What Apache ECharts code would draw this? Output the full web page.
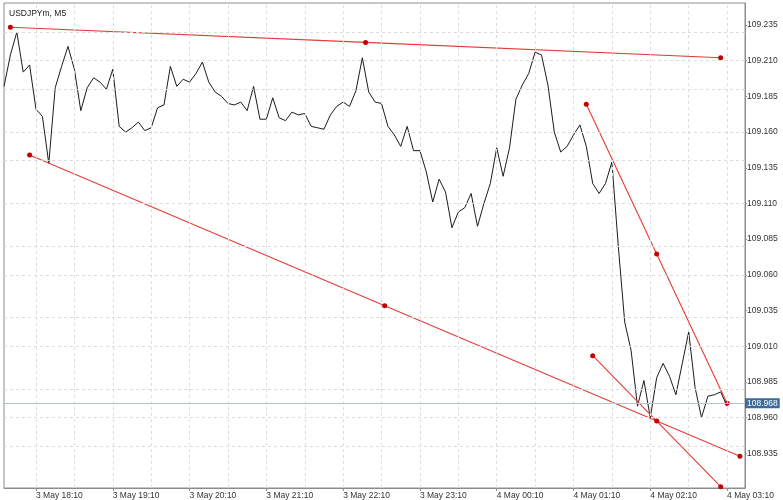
<!DOCTYPE html>
<html>
<head>
<meta charset="utf-8">
<script src="https://cdn.jsdelivr.net/npm/echarts@6/dist/echarts.min.js"></script>
<style>
html,body{margin:0;padding:0;background:#ffffff;}
#chart{width:783px;height:500px;}
</style>
</head>
<body>
<div id="chart"></div>
<script>
// x values are minutes relative to 3 May 18:10
const chartTitle = 'USDJPYm, M5';
const firstBarMinute = -25;
const barStepMinutes = 5;
const closePrices = [
  109.192, 109.214, 109.230, 109.202, 109.207, 109.176, 109.171, 109.138, 109.191, 109.206,
  109.220, 109.204, 109.175, 109.191, 109.198, 109.195, 109.190, 109.204, 109.164, 109.160,
  109.163, 109.167, 109.161, 109.163, 109.177, 109.179, 109.206, 109.192, 109.197, 109.195,
  109.201, 109.209, 109.195, 109.188, 109.185, 109.180, 109.179, 109.181, 109.175, 109.192,
  109.169, 109.169, 109.184, 109.170, 109.168, 109.174, 109.172, 109.173, 109.164, 109.163,
  109.162, 109.172, 109.178, 109.181, 109.178, 109.189, 109.212, 109.188, 109.181, 109.180,
  109.164, 109.158, 109.150, 109.164, 109.147, 109.147, 109.132, 109.111, 109.127, 109.118,
  109.093, 109.104, 109.107, 109.117, 109.094, 109.110, 109.124, 109.149, 109.129, 109.149,
  109.183, 109.193, 109.201, 109.216, 109.214, 109.193, 109.160, 109.146, 109.150, 109.158,
  109.165, 109.150, 109.124, 109.117, 109.124, 109.139, 109.080, 109.027, 109.007, 108.968,
  108.986, 108.960, 108.988, 108.998, 108.989, 108.976, 108.998, 109.020, 108.981, 108.960,
  108.975, 108.976, 108.978, 108.968
];
const lastPrice = 108.968;

const xTickMinutes = [0, 60, 120, 180, 240, 300, 360, 420, 480, 540];
const xTickLabels = ['3 May 18:10', '3 May 19:10', '3 May 20:10', '3 May 21:10', '3 May 22:10',
                     '3 May 23:10', '4 May 00:10', '4 May 01:10', '4 May 02:10', '4 May 03:10'];
const xGridMinutes = [0, 30, 60, 90, 120, 150, 180, 210, 240, 270, 300, 330, 360, 390, 420, 450, 480, 510, 540];
const yTickValues = [108.935, 108.960, 108.985, 109.010, 109.035, 109.060, 109.085, 109.110,
                     109.135, 109.160, 109.185, 109.210, 109.235];

// trend lines: [minute, price] for start, middle and end anchors
const trendUpper = [[-20, 109.2334], [257.5, 109.2228], [535, 109.2121]];
const trendLower = [[-5, 109.1440], [272.5, 109.0384], [550, 108.9330]];
const trendSteep = [[430, 109.1795], [485, 109.0746], [540, 108.9700]];
const trendShort = [[435, 109.0034], [485, 108.9576], [535, 108.9116]];

const priceData = closePrices.map((p, i) => [firstBarMinute + i * barStepMinutes, p]);
const labelMap = {};
xTickMinutes.forEach((m, i) => { labelMap[m] = xTickLabels[i]; });

const FONT = 'Liberation Sans, Arial, sans-serif';
const redLine = '#e63b36';
const redDot = '#c40000';

function trendSeries(data) {
  return {
    type: 'line', data: data, z: 4, silent: true,
    symbol: 'circle', symbolSize: 5, showSymbol: true,
    itemStyle: { color: redDot, borderWidth: 0 },
    lineStyle: { color: redLine, width: 1.1 },
    animation: false
  };
}

const chart = echarts.init(document.getElementById('chart'), null, { renderer: 'canvas' });
chart.setOption({
  animation: false,
  backgroundColor: '#ffffff',
  title: {
    text: chartTitle, left: 4, top: 4,
    textStyle: { fontSize: 8.5, fontWeight: 'normal', color: '#222', fontFamily: FONT }
  },
  grid: {
    left: 4, right: 38, top: 3, bottom: 12,
    show: true, borderColor: '#8c8c8c', borderWidth: 1, backgroundColor: '#ffffff'
  },
  xAxis: {
    type: 'value', min: -25, max: 554,
    axisLine: { show: true, onZero: false, lineStyle: { color: '#8c8c8c' } },
    axisTick: { show: true, length: 3, customValues: xTickMinutes, lineStyle: { color: '#8c8c8c' } },
    splitLine: { show: false },
    minorTick: { show: false },
    minorSplitLine: { show: false },
    axisLabel: {
      customValues: xTickMinutes,
      formatter: v => labelMap[Math.round(v)] || '',
      align: 'left', margin: 3, fontSize: 8.5, color: '#333', fontFamily: FONT
    }
  },
  yAxis: {
    type: 'value', position: 'right', min: 108.9107, max: 109.2504,
    axisLine: { show: true, onZero: false, lineStyle: { color: '#8c8c8c' } },
    axisTick: { show: true, length: 2, customValues: yTickValues, lineStyle: { color: '#8c8c8c' } },
    splitLine: { show: false },
    minorTick: { show: false },
    minorSplitLine: { show: false },
    axisLabel: {
      customValues: yTickValues,
      formatter: v => v.toFixed(3),
      margin: 2, fontSize: 8.5, color: '#333', fontFamily: FONT
    }
  },
  series: [
    {
      type: 'line', data: [], z: 1, silent: true,
      markLine: {
        silent: true, symbol: 'none', animation: false,
        label: { show: false },
        lineStyle: { color: '#dddddd', type: [3, 3], width: 1 },
        data: yTickValues.map(v => ({ yAxis: v })).concat(xGridMinutes.map(m => ({ xAxis: m })))
      }
    },
    {
      type: 'line', data: priceData, z: 3, silent: true,
      symbol: 'none', showSymbol: false,
      lineStyle: { color: '#1c1c1c', width: 1 },
      markLine: {
        silent: true, symbol: 'none', animation: false,
        lineStyle: { color: '#b3c4d6', type: 'solid', width: 1 },
        label: {
          show: true, position: 'end', distance: 0,
          formatter: () => lastPrice.toFixed(3),
          backgroundColor: '#3d6b99', color: '#ffffff',
          padding: [1, 2, 0, 2], fontSize: 8.5, fontFamily: FONT
        },
        data: [{ yAxis: lastPrice }]
      }
    },
    trendSeries(trendUpper),
    trendSeries(trendLower),
    trendSeries(trendSteep),
    trendSeries(trendShort)
  ]
});
</script>
</body>
</html>
